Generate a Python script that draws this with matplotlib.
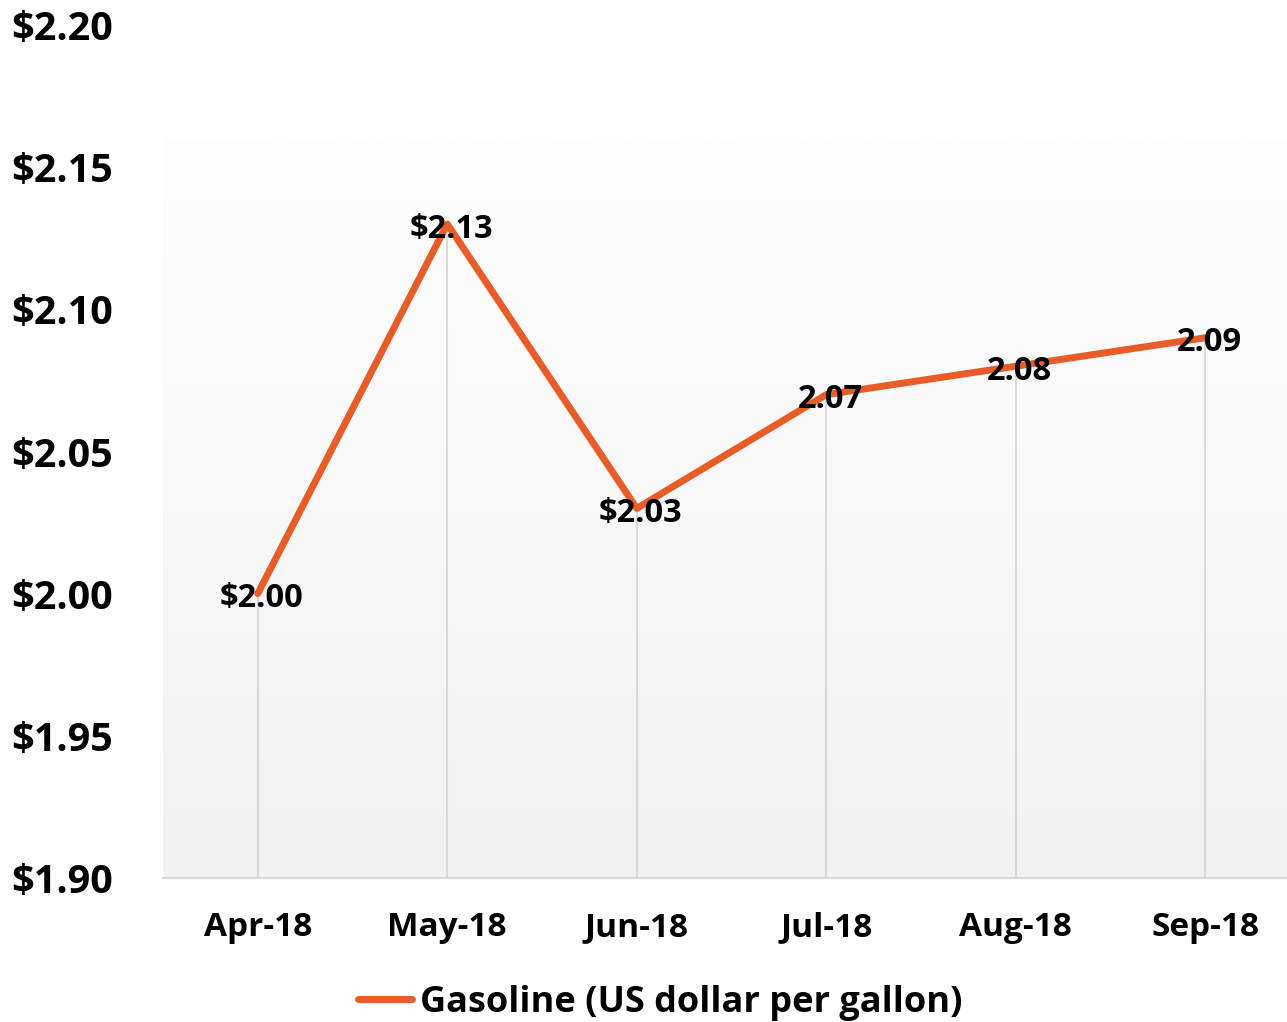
import numpy as np
import matplotlib.pyplot as plt
from matplotlib.colors import LinearSegmentedColormap

months = ['Apr-18', 'May-18', 'Jun-18', 'Jul-18', 'Aug-18', 'Sep-18']
prices = [2.00, 2.13, 2.03, 2.07, 2.08, 2.09]
point_labels = ['$2.00', '$2.13', '$2.03', '2.07', '2.08', '2.09']
yticks = [1.90, 1.95, 2.00, 2.05, 2.10, 2.15, 2.20]

plt.rcParams['font.family'] = ['Open Sans', 'DejaVu Sans']
plt.rcParams['font.weight'] = 'bold'

line_color = '#E85D27'

fig = plt.figure(figsize=(12.87, 10.22), dpi=100)
ax = fig.add_axes([163 / 1287, 144 / 1022, 1137 / 1287, 853 / 1022])

x = np.arange(len(months))
ax.set_xlim(-0.5, len(months) - 0.5)
ax.set_ylim(1.90, 2.20)

# fond en degrade (ne couvre pas tout le haut, comme dans l'original)
cmap = LinearSegmentedColormap.from_list('bg', ['#f2f2f2', '#fefefe'])
grad = np.linspace(0, 1, 256).reshape(-1, 1)
ax.imshow(grad, cmap=cmap, aspect='auto', origin='lower',
          extent=[-0.5, len(months) - 0.5, 1.90, 2.1606], zorder=0)

# lignes de rappel verticales
ax.vlines(x, 1.90, prices, color='#d9d9d9', linewidth=1.5, zorder=1)

ax.plot(x, prices, color=line_color, linewidth=5, solid_capstyle='round',
        label='Gasoline (US dollar per gallon)', zorder=2)

for xi, yi, lab in zip(x, prices, point_labels):
    ax.text(xi + 0.02, yi - 0.0018, lab, ha='center', va='center',
            fontsize=23.5, fontweight='bold', color='black', zorder=3)

ax.set_xticks(x)
ax.set_xticklabels(months, fontsize=24, fontweight='bold')
ax.set_yticks(yticks)
ax.set_yticklabels(['${:.2f}'.format(v) for v in yticks], fontsize=28.5, fontweight='bold')
ax.tick_params(axis='both', length=0)
ax.tick_params(axis='x', pad=24)
ax.tick_params(axis='y', pad=36)

for side in ['top', 'right', 'left']:
    ax.spines[side].set_visible(False)
ax.spines['bottom'].set_color('#d9d9d9')
ax.spines['bottom'].set_linewidth(1.5)

fig.legend(loc='center', bbox_to_anchor=(0.513, 0.019), frameon=False,
           prop={'size': 26, 'weight': 'bold'}, handlelength=1.5, handletextpad=0.2)

fig.savefig('out.png', dpi=100)
